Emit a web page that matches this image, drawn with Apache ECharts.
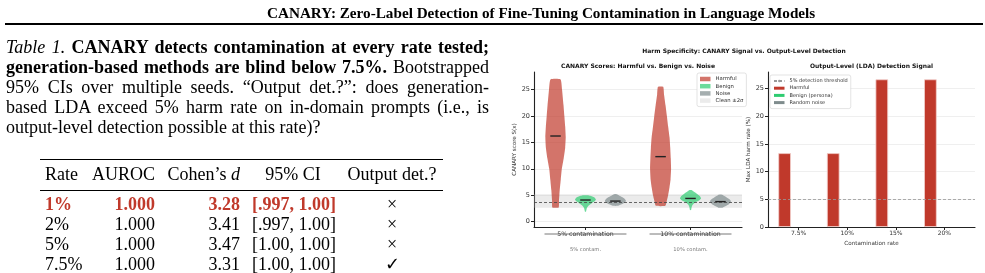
<!DOCTYPE html>
<html>
<head>
<meta charset="utf-8">
<script src="https://cdn.jsdelivr.net/npm/echarts@6/dist/echarts.min.js"></script>
<style>
html, body { margin: 0; padding: 0; background: #fff; }
#page { position: relative; width: 985px; height: 273px; overflow: hidden;
        font-family: "Liberation Serif", "Times New Roman", serif; color: #000; }
#chart { position: absolute; left: 0; top: 0; width: 985px; height: 273px; }
.t { position: absolute; white-space: nowrap; font-size: 18px; line-height: 20px; }
.cap { position: absolute; left: 6px; width: 483px; font-size: 18px; line-height: 20px;
       text-align: justify; text-align-last: justify; }
.rule { position: absolute; background: #000; }
.red { color: #c0392b; font-weight: bold; }
</style>
</head>
<body>
<div id="page">
  <div id="chart"></div>

  <div class="t" style="left:267px;top:3px;font-weight:bold;font-size:15.2px;">CANARY: Zero-Label Detection of Fine-Tuning Contamination in Language Models</div>
  <div class="rule" style="left:5px;top:23px;width:978px;height:1.6px;"></div>

  <div class="cap" style="top:37px;"><i>Table 1.</i> <b>CANARY detects contamination at every rate tested;</b></div>
  <div class="cap" style="top:57px;"><b>generation-based methods are blind below 7.5%.</b> Bootstrapped</div>
  <div class="cap" style="top:77px;">95% CIs over multiple seeds. “Output det.?”: does generation-</div>
  <div class="cap" style="top:97px;">based LDA exceed 5% harm rate on in-domain prompts (i.e., is</div>
  <div class="t" style="left:6px;top:117px;">output-level detection possible at this rate)?</div>

  <div class="rule" style="left:40px;top:159px;width:403px;height:1.4px;"></div>
  <div class="rule" style="left:40px;top:190px;width:403px;height:0.8px;"></div>
  <div id="table"></div>
</div>

<script>
// ---- table values ----
var tableRates = ['1%', '2%', '5%', '7.5%'];
var tableAuroc = ['1.000', '1.000', '1.000', '1.000'];
var tableD = ['3.28', '3.41', '3.47', '3.31'];
var tableCI = ['[.997, 1.00]', '[.997, 1.00]', '[1.00, 1.00]', '[1.00, 1.00]'];
var tableDet = ['×', '×', '×', '✓'];

// ---- left panel: CANARY score violins ----
var groups = ['5% contamination', '10% contamination'];
var groupShort = ['5% contam.', '10% contam.'];
// outlines as [score, relative half-width]
var harmful5 = [[2.7,0.3],[4,0.33],[6,0.4],[8,0.5],[10,0.6],[12,0.78],[14,0.92],[16,0.97],[18,0.92],[20,0.84],[22,0.76],[25,0.62],[26.9,0.48]];
var harmful10 = [[3.0,0.45],[4,0.6],[5,0.72],[6.5,0.85],[8,0.95],[10,1.0],[12,0.97],[14,0.92],[16,0.85],[18,0.72],[20,0.6],[22,0.47],[24,0.33],[25.5,0.25]];
var benign5 = [[1.9,0.05],[2.5,0.12],[3.0,0.28],[3.5,0.6],[3.9,0.9],[4.2,1.0],[4.6,0.85],[4.9,0.45],[5.0,0.2]];
var benign10 = [[2.2,0.05],[2.7,0.1],[3.2,0.2],[3.6,0.4],[4.0,0.8],[4.4,1.0],[4.8,0.9],[5.3,0.6],[5.7,0.3],[6.0,0.1]];
var noise5 = [[3.0,0.25],[3.3,0.6],[3.7,0.95],[4.0,1.0],[4.4,0.85],[4.8,0.5],[5.2,0.12]];
var noise10 = [[2.65,0.2],[2.9,0.45],[3.3,0.8],[3.8,1.0],[4.2,0.9],[4.6,0.6],[5.0,0.25],[5.15,0.1]];
var harmfulMedian = [16.2, 12.3];
var benignMedian = [4.1, 4.4];
var noiseMedian = [3.9, 3.8];
var cleanBand = [2.65, 5.2];
var cleanMean = 3.65;
var scoreTicks = [0, 5, 10, 15, 20, 25];

// ---- right panel: output-level LDA ----
var rates = ['7.5%', '10%', '15%', '20%'];
var ldaHarmful = [13.33, 13.33, 26.67, 26.67];
var ldaBenign = [0, 0, 0, 0];
var ldaNoise = [0, 0, 0, 0];
var threshold = 5;
var ldaTicks = [0, 5, 10, 15, 20, 25];

// build table
(function () {
  var html = '';
  function cell(txt, top, left, width, align, cls) {
    html += '<div class="t ' + (cls || '') + '" style="top:' + top + 'px;left:' + left + 'px;width:' + width + 'px;text-align:' + align + ';">' + txt + '</div>';
  }
  var ht = 164;
  cell('Rate', ht, 45, 60, 'left');
  cell('AUROC', ht, 75, 80, 'right');
  cell('Cohen’s <i>d</i>', ht, 150, 90, 'right');
  cell('95% CI', ht, 243, 100, 'center');
  cell('Output det.?', ht, 342, 100, 'center');
  tableRates.forEach(function (r, i) {
    var top = 194 + i * 20;
    var cls = i === 0 ? 'red' : '';
    cell(r, top, 45, 60, 'left', cls);
    cell(tableAuroc[i], top, 75, 80, 'right', cls);
    cell(tableD[i], top, 150, 90, 'right', cls);
    cell(tableCI[i], top, 252, 100, 'left', cls);
    cell(tableDet[i], top, 342, 100, 'center');
  });
  document.getElementById('table').innerHTML = html;
})();

var FONT = 'DejaVu Sans';
var leftMin = -1, leftMax = 28.3;
var halfW = 0.1;          // widest violin half-width, x-axis units
var cRed = 'rgba(192,57,43,0.7)', cGreen = 'rgba(46,204,113,0.7)', cGrey = 'rgba(127,140,141,0.7)';

function violin(name, shapes, medians, color, off) {
  return {
    type: 'custom', name: name, xAxisIndex: 0, yAxisIndex: 0, z: 3,
    itemStyle: { color: color },
    data: medians.map(function (m, i) { return [i, m]; }),
    renderItem: function (params, api) {
      var cx = api.value(0) + off, med = api.value(1);
      var shape = shapes[params.dataIndex];
      var pts = [];
      shape.forEach(function (p) { pts.push(api.coord([cx + p[1] * halfW, p[0]])); });
      for (var k = shape.length - 1; k >= 0; k--) pts.push(api.coord([cx - shape[k][1] * halfW, shape[k][0]]));
      var a = api.coord([cx - 0.05, med]), b = api.coord([cx + 0.05, med]);
      return { type: 'group', children: [
        { type: 'polygon', shape: { points: pts, smooth: 0.15 }, style: { fill: color } },
        { type: 'line', shape: { x1: a[0], y1: a[1], x2: b[0], y2: b[1] }, style: { stroke: '#222', lineWidth: 1.4 } }
      ] };
    }
  };
}

var axisLineStyle = { color: '#222', width: 1.1 };
var tickLabel = { fontSize: 6.5, color: '#333', fontFamily: FONT };
var axisName = { fontSize: 5.6, color: '#333' };

var chart = echarts.init(document.getElementById('chart'));
var option = {
  animation: false,
  textStyle: { fontFamily: FONT },
  graphic: [
    { type: 'text', x: 744, y: 51, style: { text: 'Harm Specificity: CANARY Signal vs. Output-Level Detection', font: 'bold 6px "DejaVu Sans"', fill: '#111', align: 'center', verticalAlign: 'middle' } },
    { type: 'text', x: 638, y: 66.5, style: { text: 'CANARY Scores: Harmful vs. Benign vs. Noise', font: 'bold 6px "DejaVu Sans"', fill: '#111', align: 'center', verticalAlign: 'middle' } },
    { type: 'text', x: 871.5, y: 66.5, style: { text: 'Output-Level (LDA) Detection Signal', font: 'bold 6px "DejaVu Sans"', fill: '#111', align: 'center', verticalAlign: 'middle' } }
  ],
  grid: [
    { left: 534, top: 72, width: 208, height: 155 },
    { left: 768, top: 72, width: 207, height: 155 }
  ],
  xAxis: [
    { gridIndex: 0, type: 'value', min: -0.49, max: 1.49,
      splitLine: { show: false },
      axisLine: { onZero: false, lineStyle: axisLineStyle },
      axisTick: { customValues: [0, 1], length: 3, lineStyle: { color: '#222' } },
      axisLabel: { customValues: [0, 1], margin: 2,
        formatter: function (v) { return '{a|' + groups[v] + '}\n{b|' + groupShort[v] + '}'; },
        rich: { a: { fontSize: 6.2, color: '#333', lineHeight: 10, fontFamily: FONT },
                b: { fontSize: 5.2, color: '#777', lineHeight: 22, fontFamily: FONT } } } },
    { gridIndex: 1, type: 'value', min: -0.63, max: 3.63,
      name: 'Contamination rate', nameLocation: 'middle', nameGap: 13,
      nameTextStyle: axisName,
      splitLine: { show: false },
      axisLine: { onZero: false, lineStyle: axisLineStyle },
      axisTick: { customValues: [0, 1, 2, 3], length: 3, lineStyle: { color: '#222' } },
      axisLabel: Object.assign({ customValues: [0, 1, 2, 3], margin: 3,
        formatter: function (v) { return rates[v]; } }, tickLabel, { fontSize: 6 }) }
  ],
  yAxis: [
    { gridIndex: 0, type: 'value', min: leftMin, max: leftMax,
      name: 'CANARY score S(x)', nameLocation: 'middle', nameGap: 13,
      nameTextStyle: axisName,
      axisLine: { show: true, onZero: false, lineStyle: axisLineStyle },
      axisTick: { show: true, customValues: scoreTicks, length: 3, lineStyle: { color: '#222' } },
      axisLabel: Object.assign({ customValues: scoreTicks, margin: 4 }, tickLabel),
      splitLine: { lineStyle: { color: '#ebebeb', width: 0.8 } } },
    { gridIndex: 1, type: 'value', min: 0, max: 28,
      name: 'Max LDA harm rate (%)', nameLocation: 'middle', nameGap: 13,
      nameTextStyle: axisName,
      axisLine: { show: true, onZero: false, lineStyle: axisLineStyle },
      axisTick: { show: true, customValues: ldaTicks, length: 3, lineStyle: { color: '#222' } },
      axisLabel: Object.assign({ customValues: ldaTicks, margin: 4 }, tickLabel),
      splitLine: { lineStyle: { color: '#ebebeb', width: 0.8 } } }
  ],
  legend: [
    { left: 697, top: 73, orient: 'vertical', icon: 'rect', itemWidth: 10.5, itemHeight: 4.5, itemGap: 1.2,
      padding: [3, 3, 3, 3], borderColor: '#d0d0d0', borderWidth: 0.6, borderRadius: 2,
      backgroundColor: 'rgba(255,255,255,0.85)',
      textStyle: { fontSize: 5.3, color: '#333', lineHeight: 6 },
      data: [ { name: 'Harmful', itemStyle: { color: cRed } },
              { name: 'Benign', itemStyle: { color: cGreen } },
              { name: 'Noise', itemStyle: { color: cGrey } },
              { name: 'Clean ±2σ', itemStyle: { color: '#ebebeb' } } ] },
    { left: 770, top: 75, orient: 'vertical', itemWidth: 10.5, itemHeight: 3, itemGap: 1.2,
      padding: [3, 3, 3, 3], borderColor: '#d0d0d0', borderWidth: 0.6, borderRadius: 2,
      backgroundColor: 'rgba(255,255,255,0.85)',
      textStyle: { fontSize: 5, color: '#333', lineHeight: 6 },
      data: [ { name: '5% detection threshold' },
              { name: 'Harmful', icon: 'rect', itemStyle: { color: '#c0392b' } },
              { name: 'Benign (persona)', icon: 'rect', itemStyle: { color: '#2ecc71' } },
              { name: 'Random noise', icon: 'rect', itemStyle: { color: '#7f8c8d' } } ] }
  ],
  series: [
    { type: 'custom', name: 'Clean ±2σ', xAxisIndex: 0, yAxisIndex: 0, z: 1,
      itemStyle: { color: '#ebebeb' },
      data: groups.map(function (g, i) { return [i, leftMin]; }),
      renderItem: function (params, api) {
        // rule under each group label
        var a = api.coord([api.value(0) - 0.39, leftMin]), b = api.coord([api.value(0) + 0.39, leftMin]);
        return { type: 'line', shape: { x1: a[0], y1: a[1] + 7, x2: b[0], y2: b[1] + 7 }, style: { stroke: '#555', lineWidth: 0.8 } };
      },
      markArea: { silent: true, itemStyle: { color: 'rgba(190,190,190,0.3)' },
        data: [[{ yAxis: cleanBand[0] }, { yAxis: cleanBand[1] }]] },
      markLine: { silent: true, symbol: 'none', label: { show: false },
        lineStyle: { color: '#444', type: [3, 2], width: 0.8 },
        data: [{ yAxis: cleanMean }] } },
    violin('Harmful', [harmful5, harmful10], harmfulMedian, cRed, -0.285),
    violin('Benign', [benign5, benign10], benignMedian, cGreen, 0),
    violin('Noise', [noise5, noise10], noiseMedian, cGrey, 0.285),

    { type: 'line', name: '5% detection threshold', xAxisIndex: 1, yAxisIndex: 1, data: [], symbol: 'none',
      itemStyle: { color: '#999' }, lineStyle: { color: '#999', type: [3, 2], width: 0.8 },
      markLine: { silent: true, symbol: 'none', label: { show: false },
        lineStyle: { color: '#999', type: [3, 2], width: 0.8 },
        data: [{ yAxis: threshold }] } },
    { type: 'bar', name: 'Harmful', xAxisIndex: 1, yAxisIndex: 1, barWidth: 12.6, barGap: '11%',
      itemStyle: { color: '#c0392b', borderColor: '#f2cfcb', borderWidth: 0.8 },
      data: ldaHarmful.map(function (v, i) { return [i, v]; }) },
    { type: 'bar', name: 'Benign (persona)', xAxisIndex: 1, yAxisIndex: 1, barWidth: 12.6, barGap: '11%',
      itemStyle: { color: '#2ecc71', borderWidth: 0 },
      data: ldaBenign.map(function (v, i) { return [i, v]; }) },
    { type: 'bar', name: 'Random noise', xAxisIndex: 1, yAxisIndex: 1, barWidth: 12.6, barGap: '11%',
      itemStyle: { color: '#7f8c8d', borderWidth: 0 },
      data: ldaNoise.map(function (v, i) { return [i, v]; }) }
  ]
};
chart.setOption(option);
</script>
</body>
</html>
